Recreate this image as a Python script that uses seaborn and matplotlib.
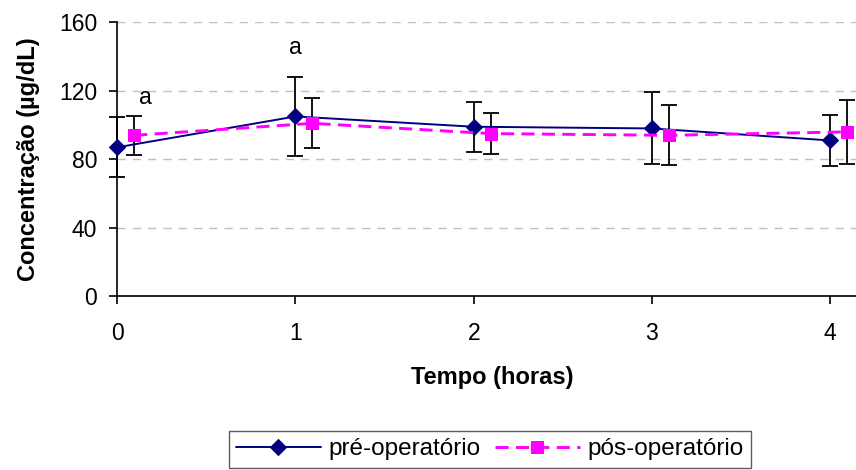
import numpy as np
import pandas as pd
import seaborn as sns
import matplotlib.pyplot as plt

# dados
tempo = [0, 1, 2, 3, 4]
pre_media = [87, 105, 99, 98, 91]
pre_dp = [17.5, 23, 14.7, 21, 14.7]
pos_media = [94, 101, 95, 94, 96]
pos_dp = [11.5, 14.5, 12, 17.5, 18.5]
deslocamento = 0.095

sns.set_theme(style="white")
plt.rcParams['font.family'] = ['Liberation Sans', 'DejaVu Sans']
plt.rcParams.update({'text.color': 'black', 'axes.labelcolor': 'black',
                     'xtick.color': 'black', 'ytick.color': 'black'})

fig = plt.figure(figsize=(8.56, 4.70), dpi=100)
ax = fig.add_axes([0.137, 0.3696, 0.863, 0.583])

t_pos = [t + deslocamento for t in tempo]

for x, y, e in [(tempo, pre_media, pre_dp), (t_pos, pos_media, pos_dp)]:
    eb = ax.errorbar(x, y, yerr=e, fmt='none', ecolor='black',
                     elinewidth=1.3, capsize=5.5, capthick=1.3, zorder=2)
    for art in eb.lines[1] + eb.lines[2]:
        art.set_clip_on(False)

sns.lineplot(x=tempo, y=pre_media, ax=ax, color='#000080', lw=1.4,
             marker='D', markersize=8, markeredgecolor='#000080',
             label='pré-operatório', zorder=3, clip_on=False)
sns.lineplot(x=t_pos, y=pos_media, ax=ax, color='#FF00FF', lw=2.1,
             dashes=(4.5, 2.5), marker='s', markersize=8, markeredgecolor='#FF00FF',
             label='pós-operatório', zorder=3, clip_on=False)

ax.text(0.155, 116, 'a', fontsize=16.5, ha='center', va='center')
ax.text(1.0, 145, 'a', fontsize=16.5, ha='center', va='center')

ax.set_xlim(0, 4.145)
ax.set_ylim(0, 160)
ax.set_xticks(tempo)
ax.set_yticks([0, 40, 80, 120, 160])
ax.yaxis.grid(True, color='#c0c0c0', linestyle=(0, (6, 5)), lw=1)
ax.xaxis.grid(False)

for s in ['top', 'right']:
    ax.spines[s].set_visible(False)
for s in ['left', 'bottom']:
    ax.spines[s].set_color('black')
    ax.spines[s].set_linewidth(1.2)

ax.tick_params(axis='x', direction='out', length=5.5, width=1.2, color='black',
               labelsize=16.5, pad=13, bottom=True)
ax.tick_params(axis='y', direction='out', length=5.5, width=1.2, color='black',
               labelsize=16.5, pad=9, left=True)

ax.set_xlabel('Tempo (horas)', fontsize=17, fontweight='bold')
ax.set_ylabel('Concentração (µg/dL)', fontsize=17, fontweight='bold')
ax.xaxis.set_label_coords(0.508, -0.254)
ax.yaxis.set_label_coords(-0.105, 0.5)

ax.get_legend().remove()
h, l = ax.get_legend_handles_labels()
leg = fig.legend(h, l, loc='upper center', bbox_to_anchor=(0.572, 0.083), ncol=2,
                 fontsize=17.5, frameon=True, fancybox=False, edgecolor='#333333',
                 handlelength=3.5, columnspacing=0.6, handletextpad=0.3,
                 borderpad=0.3, borderaxespad=0)
leg.get_frame().set_linewidth(1)

fig.savefig('out.png', dpi=100)
